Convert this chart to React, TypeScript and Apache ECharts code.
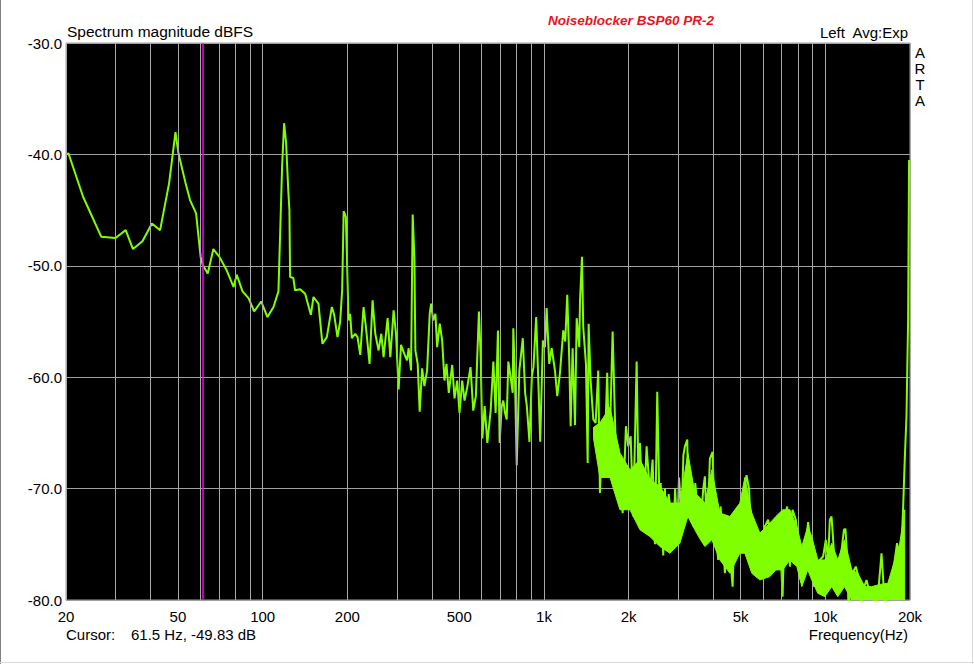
import React, { useEffect, useRef } from "react";
import * as echarts from "echarts";

// ---- data (frequency in Hz, level in dBFS) ----
const lowFreq = [20, 20.4, 23.0, 26.7, 30.0, 32.6, 34.6, 37.4, 40.4, 43.2, 46.5, 49.0, 50.2, 53.0, 55.2, 58.0, 60.2, 61.2, 63.8, 66.8, 70.2, 74.5, 78.8, 80.9, 84.8, 89.1, 93.3, 98.8, 104.0, 109.3, 113.8, 115.4, 117.3, 119.2, 121.2, 123.2, 124.5, 125.2, 128.6, 130.4, 135.9];
const lowDb = [-40.0, -39.9, -43.8, -47.4, -47.5, -46.8, -48.5, -47.8, -46.2, -46.8, -42.6, -38.0, -39.9, -42.4, -44.1, -45.3, -49.2, -49.9, -50.7, -48.5, -49.2, -50.4, -51.9, -50.8, -52.3, -52.9, -54.1, -53.2, -54.6, -53.7, -52.3, -47.1, -41.0, -37.2, -39.0, -43.0, -45.0, -51.0, -51.1, -52.2, -52.1];

const midFreq = [141.6, 148.4, 151.6, 157.9, 163.1, 169.1, 176.2, 179.6, 184.5, 188.6, 191.7, 194.1, 197.6, 202, 204.6, 207.5, 213.3, 217.4, 222.3, 228.4, 232.9, 239.9, 245.9, 251.4, 258.3, 264.1, 269.1, 278.1, 284.3, 292.1, 297.9, 304.3, 310.3, 318.9, 326.0, 330.3, 336.9, 341.4, 346.2, 349.1, 355.7, 361.6, 368.8, 375.8, 384.2, 392.5, 397.1, 403.6, 411.3, 417.1, 426.1, 434.6, 442.9, 450.2, 458.8, 471.8, 480.8, 491.6, 500.9, 512.1, 521.9, 533.5, 548.2, 560.5, 572.7, 587.1, 595.3, 603.7, 615.3, 629.1, 646.4, 660.8, 673.3, 686.1, 695.8, 707.5, 716.8, 726.9, 737.1, 746.8, 757.2, 774.2, 778.0, 788.9, 800.1, 817.4, 840.8, 857.0, 869.1, 887.9, 905.6, 917.6, 938.1, 956.0, 969.4, 991.0];
const midDb = [-52.5, -54.4, -52.8, -53.4, -57.0, -56.4, -53.7, -54.4, -56.4, -55.0, -52.2, -45.1, -45.6, -54.9, -54.3, -56.5, -56.1, -56.4, -58.0, -53.7, -55.5, -58.8, -53.1, -56.1, -57.6, -56.1, -58.2, -54.7, -58.2, -54.0, -56.1, -61.1, -57.1, -57.9, -58.5, -57.4, -59.4, -45.4, -49.2, -57.6, -58.8, -63.1, -59.2, -60.8, -59.4, -54.3, -53.4, -54.9, -54.3, -57.3, -55.2, -56.7, -60.3, -58.8, -61.4, -58.9, -61.9, -60.3, -63.2, -60.3, -62.1, -60.9, -59.1, -63.0, -61.7, -54.1, -57.9, -65.5, -62.6, -65.9, -63.0, -58.6, -63.2, -55.8, -65.9, -62.6, -62.1, -63.2, -63.8, -58.6, -59.6, -61.4, -55.6, -60.3, -67.9, -59.4, -56.5, -61.4, -62.6, -65.8, -59.9, -59.1, -54.6, -60.8, -65.8, -56.7];

const highFreq = [1008, 1022, 1044, 1065, 1094, 1115, 1140, 1171, 1190, 1210, 1230, 1244, 1264, 1289, 1307, 1335, 1343, 1365, 1379, 1410, 1430, 1441, 1465, 1497, 1526, 1559, 1581, 1603, 1634, 1678, 1706, 1754, 1788, 1822, 1851, 1904, 1956, 1993, 2033, 2077, 2135, 2164, 2194, 2253, 2316, 2380, 2433, 2480, 2527, 2569, 2600, 2654, 2690, 2728, 2775, 2819, 2880, 2925, 2976, 3020, 3086, 3130, 3170, 3231, 3260, 3302, 3393, 3450, 3504, 3582, 3680, 3732, 3803, 3888, 3975];
const highDb = [-57.3, -53.8, -58.8, -57.4, -59.4, -61.7, -59.6, -55.8, -56.8, -52.6, -58.5, -64.4, -57.4, -64.3, -54.7, -57.3, -53.1, -49.2, -55.5, -58.8, -67.7, -55.2, -60.3, -63.8, -64.1, -59.4, -70.4, -66.2, -68.6, -59.6, -67.4, -55.9, -63.8, -70.4, -67.4, -72.2, -64.4, -66.2, -65.3, -72.5, -58.6, -68.6, -65.9, -73.5, -66.2, -70.4, -67.4, -75.0, -61.3, -70.4, -69.5, -76.0, -70.0, -73.5, -70.5, -72.0, -75.0, -70.0, -74.0, -69.0, -72.5, -67.0, -66.2, -65.6, -72.0, -70.4, -73.4, -69.5, -71.6, -74.3, -70.1, -68.9, -74.6, -67.3, -66.7];

const topFreq = [4017, 4084, 4161, 4243, 4335, 4396, 4480, 4580, 4682, 4772, 4862, 4970, 5104, 5248, 5361, 5436, 5541, 5664, 5820, 5983, 6097, 6264, 6441, 6617, 6799, 6894, 7048, 7183, 7319, 7482, 7646, 7856, 8005, 8164, 8339, 8526, 8688, 8934, 9103, 9305, 9559, 9822, 10041, 10232, 10378, 10524, 10663, 10903, 11205, 11427, 11646, 11795, 11951, 12100, 12218, 12490, 12834, 13187, 13400, 13625, 14007, 14389, 14784, 15000, 15407, 15842, 16145, 16300, 16505, 17185, 17655, 17989, 18291, 18650, 18896, 19161, 19431, 19689, 19850];
const topDb = [-70.7, -74.0, -76.4, -71.6, -74.9, -77.6, -73.1, -75.8, -78.8, -72.5, -74.9, -72.2, -70.7, -68.8, -70.1, -74.0, -77.6, -74.9, -77.9, -74.6, -73.4, -72.8, -74.6, -76.4, -72.7, -74.0, -79.7, -72.5, -71.6, -77.0, -71.9, -72.8, -74.6, -78.2, -76.4, -74.9, -73.0, -75.8, -78.8, -77.6, -76.4, -76.1, -74.6, -76.4, -72.8, -72.5, -74.6, -78.8, -77.0, -75.5, -73.7, -73.6, -76.1, -81.0, -79.4, -77.6, -77.0, -78.2, -80.5, -79.1, -78.2, -79.4, -78.8, -81.0, -79.4, -75.8, -79.1, -81.0, -79.4, -78.2, -76.4, -74.9, -77.6, -75.2, -71.9, -67.4, -63.5, -55.0, -40.5];

// dense noise floor above ~1.5 kHz: envelope of the densely packed FFT bins
const bandFreq = [1500, 1581, 1716, 1862, 2021, 2194, 2380, 2583, 2804, 3041, 3247, 3438, 3582, 3732, 3952, 4219, 4580, 4968, 5176, 5481, 5852, 6351, 6671, 7057, 7479, 7921, 8252, 8660, 8950, 9404, 9959, 10544, 11075, 11700, 12420, 13045, 13815, 14629, 15619, 16677, 17655, 18392, 19161];
const bandHighDb = [-64.5, -64.1, -62.7, -66.8, -68.3, -67.4, -69.2, -69.8, -71.3, -71.3, -66.8, -70.4, -70.8, -71.3, -68.3, -72.2, -72.5, -71.3, -69.0, -72.2, -74.0, -73.1, -72.5, -71.9, -71.9, -73.4, -75.2, -73.4, -74.3, -76.4, -76.4, -74.9, -76.4, -74.6, -77.3, -77.6, -78.8, -78.8, -78.6, -78.5, -76.4, -74.9, -71.9];
const bandLowDb = [-65.5, -69.0, -69.0, -71.9, -71.9, -73.7, -74.3, -75.2, -75.8, -74.9, -72.5, -73.7, -74.5, -75.2, -74.6, -76.4, -77.6, -75.8, -75.8, -77.6, -78.2, -77.9, -77.3, -77.3, -76.4, -77.0, -78.8, -77.3, -78.2, -79.4, -79.7, -78.8, -79.7, -78.8, -80.0, -80.0, -80.0, -80.0, -80.0, -80.0, -80.0, -80.0, -80.0];

const gridFreqs = [20, 30, 40, 50, 60, 70, 80, 90, 100, 200, 300, 400, 500, 600, 700, 800, 900, 1000, 2000, 3000, 4000, 5000, 6000, 7000, 8000, 9000, 10000, 20000];
const labeledFreqs = [20, 50, 100, 200, 500, 1000, 2000, 5000, 10000, 20000];
const freqLabels = ["20", "50", "100", "200", "500", "1k", "2k", "5k", "10k", "20k"];

const yMin = -80;
const yMax = -30;
const yStep = 10;

const cursorFreq = 61.5;
const cursorDb = -49.83;

const FONT = '"Liberation Sans", Arial, sans-serif';
const GREEN = "#80ff00";

export default function App() {
  const ref = useRef<HTMLDivElement>(null);

  useEffect(() => {
    if (!ref.current) return;
    const chart = echarts.init(ref.current, null, { renderer: "svg" });

    const freq = [...lowFreq, ...midFreq, ...highFreq, ...topFreq];
    const db = [...lowDb, ...midDb, ...highDb, ...topDb];
    const data = freq.map((f, i) => [f, db[i]]);
    const bandData = bandFreq.map((f, i) => [f, bandLowDb[i], bandHighDb[i]]);

    const gridMarks = gridFreqs.map((f) => {
      const idx = labeledFreqs.indexOf(f);
      return {
        xAxis: f,
        label: idx >= 0 ? { show: true, formatter: freqLabels[idx] } : { show: false },
      };
    });

    const txt = (text: string, x: number, y: number, align: string, extra: any = {}) => ({
      type: "text",
      x,
      y,
      silent: true,
      style: {
        text,
        fill: "#000",
        font: `15px ${FONT}`,
        align,
        verticalAlign: "middle",
        ...extra,
      },
    });

    chart.setOption({
      animation: false,
      backgroundColor: "#ffffff",
      grid: {
        left: 66,
        top: 43,
        width: 844,
        height: 557,
        show: true,
        backgroundColor: "#000000",
        borderColor: "#a0a0a0",
        borderWidth: 1,
      },
      xAxis: {
        type: "log",
        logBase: 10,
        min: 20,
        max: 20000,
        axisLabel: { show: false },
        axisTick: { show: false },
        axisLine: { show: false },
        splitLine: { show: false },
        minorTick: { show: false },
        minorSplitLine: { show: false },
      },
      yAxis: {
        type: "value",
        min: yMin,
        max: yMax,
        interval: yStep,
        axisLine: { show: false },
        axisTick: { show: false },
        axisLabel: {
          color: "#000",
          fontSize: 15,
          fontFamily: FONT,
          margin: 4,
          formatter: (v: number) => v.toFixed(1),
        },
        splitLine: { show: true, lineStyle: { color: "#a0a0a0", width: 1 } },
      },
      series: [
        {
          name: "grid",
          type: "line",
          data: [],
          z: 1,
          silent: true,
          markLine: {
            silent: true,
            symbol: "none",
            animation: false,
            lineStyle: { color: "#a8a8a8", width: 1, type: "solid" },
            label: {
              position: "start",
              distance: 9,
              color: "#000",
              fontSize: 15,
              fontFamily: FONT,
            },
            emphasis: { disabled: true },
            data: gridMarks,
          },
        },
        {
          name: "cursor",
          type: "line",
          data: [],
          z: 2,
          silent: true,
          markLine: {
            silent: true,
            symbol: "none",
            animation: false,
            lineStyle: { color: "#ff00ff", width: 1.5, type: "solid", opacity: 1 },
            label: { show: false },
            emphasis: { disabled: true },
            data: [{ xAxis: cursorFreq, lineStyle: { color: "#ff00ff", width: 1.5 } }],
          },
        },
        {
          name: "spectrum",
          type: "line",
          data,
          z: 4,
          showSymbol: false,
          symbol: "none",
          clip: true,
          lineStyle: { color: GREEN, width: 2, opacity: 1 },
          itemStyle: { color: GREEN },
          emphasis: { disabled: true },
        },
        {
          name: "noise floor",
          type: "custom",
          z: 5,
          silent: true,
          clip: true,
          encode: { x: 0, y: [1, 2] },
          data: bandData,
          renderItem: (params: any, api: any) => {
            if (params.dataIndex !== 0) return null;
            const upper = bandFreq.map((f, i) => api.coord([f, bandHighDb[i]]));
            const lower = bandFreq.map((f, i) => api.coord([f, bandLowDb[i]])).reverse();
            return {
              type: "polygon",
              shape: { points: [...upper, ...lower] },
              style: { fill: GREEN, stroke: GREEN, lineWidth: 1, opacity: 1 },
            };
          },
        },
      ],
      graphic: [
        { type: "line", silent: true, shape: { x1: 0.5, y1: 0, x2: 0.5, y2: 664 }, style: { stroke: "#808080", lineWidth: 1 } },
        { type: "line", silent: true, shape: { x1: 0, y1: 662.5, x2: 974, y2: 662.5 }, style: { stroke: "#d8d8d8", lineWidth: 1 } },
        { type: "line", silent: true, shape: { x1: 972.5, y1: 0, x2: 972.5, y2: 664 }, style: { stroke: "#d8d8d8", lineWidth: 1 } },
        txt("Spectrum magnitude dBFS", 67, 31, "left", { font: `15.5px ${FONT}` }),
        txt("Noiseblocker BSP60 PR-2", 631, 20, "center", { font: `italic bold 13.5px ${FONT}`, fill: "#e8141c" }),
        txt("Left  Avg:Exp", 908, 32, "right"),
        txt("A", 920, 52, "center"),
        txt("R", 920, 68, "center"),
        txt("T", 920, 84, "center"),
        txt("A", 920, 100, "center"),
        txt("Cursor:", 66, 634, "left"),
        txt(`${cursorFreq} Hz, ${cursorDb} dB`, 131, 634, "left"),
        txt("Frequency(Hz)", 908, 634, "right"),
      ],
    });

    return () => chart.dispose();
  }, []);

  return (
    <div
      ref={ref}
      style={{ position: "fixed", left: 0, top: 0, width: 974, height: 664, background: "#fff" }}
    />
  );
}
